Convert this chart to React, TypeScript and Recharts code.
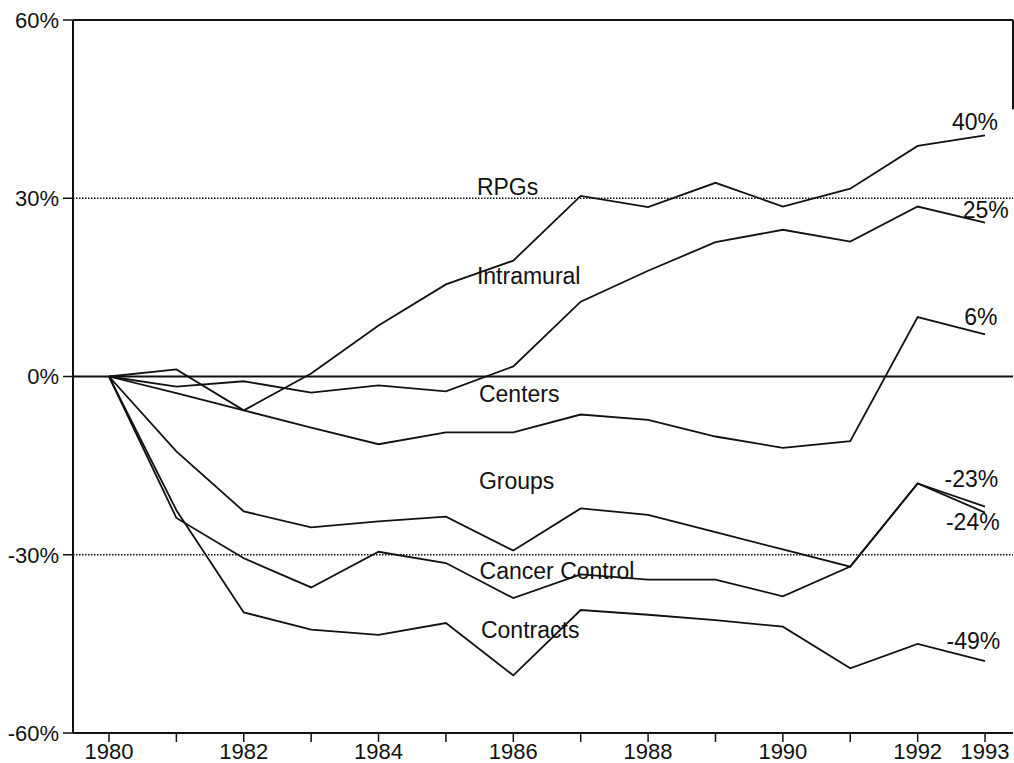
import React from 'react';
import { LineChart, Line, XAxis, YAxis, ReferenceLine, ReferenceDot } from 'recharts';

const years = [1980, 1981, 1982, 1983, 1984, 1985, 1986, 1987, 1988, 1989, 1990, 1991, 1992, 1993];
const rpgs = [0, 1.2, -5.7, 0.5, 8.6, 15.5, 19.5, 30.4, 28.5, 32.6, 28.6, 31.6, 38.8, 40.6];
const intramural = [0, -1.7, -0.8, -2.7, -1.5, -2.5, 1.7, 12.6, 17.8, 22.6, 24.7, 22.7, 28.6, 25.9];
const centers = [0, -2.8, -5.7, -8.6, -11.4, -9.4, -9.4, -6.4, -7.3, -10.1, -12.0, -10.9, 10.0, 7.1];
const groups = [0, -12.6, -22.7, -25.4, -24.4, -23.6, -29.3, -22.2, -23.3, -26.2, -29.1, -32.0, -18.0, -21.9];
const cancerControl = [0, -23.8, -30.6, -35.5, -29.5, -31.4, -37.3, -33.3, -34.2, -34.2, -37.0, -32.0, -18.0, -22.9];
const contracts = [0, -22.5, -39.7, -42.6, -43.5, -41.5, -50.3, -39.3, -40.1, -41.0, -42.1, -49.1, -45.0, -47.9];

const yTicks = [-60, -30, 0, 30, 60];
const xTickLabels = ['1980', '', '1982', '', '1984', '', '1986', '', '1988', '', '1990', '', '1992', '1993'];

const seriesKeys = ['rpgs', 'intramural', 'centers', 'groups', 'cancerControl', 'contracts'];

const data = years.map((year, i) => ({
  year,
  rpgs: rpgs[i],
  intramural: intramural[i],
  centers: centers[i],
  groups: groups[i],
  cancerControl: cancerControl[i],
  contracts: contracts[i],
}));

// text annotations anchored in data coordinates (left edge, baseline)
const annotations = [
  { text: 'RPGs', year: 1985.46, value: 30.6 },
  { text: 'Intramural', year: 1985.46, value: 15.6 },
  { text: 'Centers', year: 1985.49, value: -4.3 },
  { text: 'Groups', year: 1985.49, value: -18.9 },
  { text: 'Cancer Control', year: 1985.5, value: -34.1 },
  { text: 'Contracts', year: 1985.52, value: -44.0 },
  { text: '40%', year: 1992.51, value: 41.5 },
  { text: '25%', year: 1992.67, value: 26.7 },
  { text: '6%', year: 1992.69, value: 8.7 },
  { text: '-23%', year: 1992.4, value: -18.6 },
  { text: '-24%', year: 1992.42, value: -25.8 },
  { text: '-49%', year: 1992.43, value: -45.9 },
];

const FONT = '"Liberation Sans", Arial, Helvetica, sans-serif';
const X_MIN = 1979.466;
const X_MAX = 1993.415;

export default function App() {
  return (
    <div style={{ position: 'absolute', left: 0, top: 0, background: '#fff' }}>
      <LineChart
        width={1014}
        height={763}
        data={data}
        margin={{ top: 20, right: 1, left: 0, bottom: 0 }}
      >
        <XAxis
          dataKey="year"
          type="number"
          domain={[X_MIN, X_MAX]}
          allowDataOverflow
          ticks={years}
          interval={0}
          tickFormatter={(v: number) => xTickLabels[years.indexOf(v)] ?? ''}
          height={30}
          tickSize={9}
          tickMargin={1}
          axisLine={{ stroke: '#111', strokeWidth: 2 }}
          tickLine={{ stroke: '#111', strokeWidth: 1.5 }}
          tick={{ fontSize: 22, fontFamily: FONT, fill: '#111' }}
        />
        <YAxis
          type="number"
          domain={[-60, 60]}
          ticks={yTicks}
          interval={0}
          tickFormatter={(v: number) => `${v}%`}
          width={73}
          tickSize={10}
          tickMargin={4}
          axisLine={{ stroke: '#111', strokeWidth: 2 }}
          tickLine={{ stroke: '#111', strokeWidth: 1.5 }}
          tick={{ fontSize: 22, fontFamily: FONT, fill: '#111' }}
        />
        <ReferenceLine y={60} stroke="#111" strokeWidth={2} />
        <ReferenceLine y={30} stroke="#111" strokeWidth={1.3} strokeDasharray="1.5 1.5" />
        <ReferenceLine y={0} stroke="#111" strokeWidth={1.8} />
        <ReferenceLine y={-30} stroke="#111" strokeWidth={1.3} strokeDasharray="1.5 1.5" />
        <ReferenceLine
          segment={[{ x: X_MAX, y: 60 }, { x: X_MAX, y: 45 }]}
          stroke="#111"
          strokeWidth={2}
        />
        {seriesKeys.map((k) => (
          <Line
            key={k}
            dataKey={k}
            type="linear"
            stroke="#111"
            strokeWidth={1.8}
            dot={false}
            activeDot={false}
            isAnimationActive={false}
          />
        ))}
        {annotations.map((a) => (
          <ReferenceDot
            key={a.text}
            x={a.year}
            y={a.value}
            r={0}
            isFront
            shape={(p: any) => (
              <text x={p.cx} y={p.cy} fontSize={23} fontFamily={FONT} fill="#111">
                {a.text}
              </text>
            )}
          />
        ))}
      </LineChart>
    </div>
  );
}
